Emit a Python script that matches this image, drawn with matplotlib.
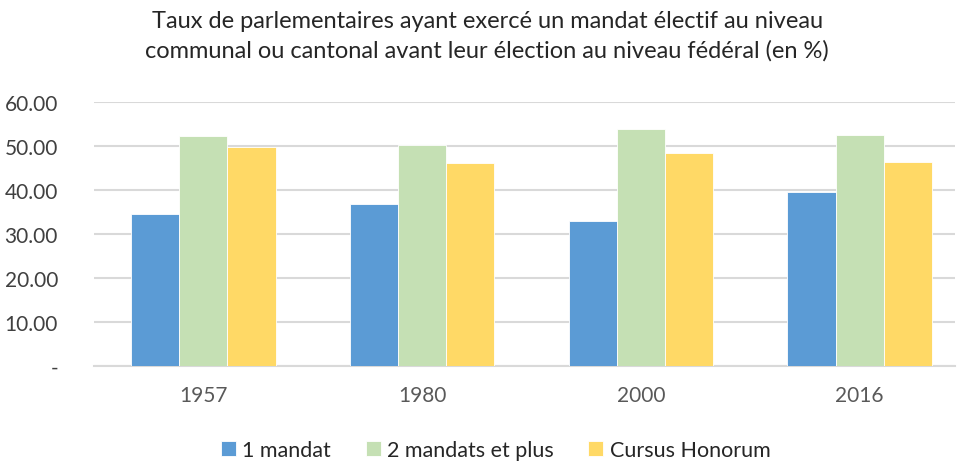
import numpy as np
import matplotlib.pyplot as plt
from matplotlib.ticker import FuncFormatter

years = ['1957', '1980', '2000', '2016']
series_names = ['1 mandat', '2 mandats et plus', 'Cursus Honorum']
un_mandat = [34.5, 36.8, 33.0, 39.5]
deux_mandats = [52.3, 50.2, 53.9, 52.5]
cursus = [49.8, 46.1, 48.3, 46.3]
colors = ['#5b9bd5', '#c5e0b4', '#ffd966']

plt.rcParams['font.family'] = ['Lato', 'DejaVu Sans']

fig = plt.figure(figsize=(9.59, 4.64), dpi=100)
ax = fig.add_axes([94 / 959, 1 - 367 / 464, 861 / 959, 264 / 464])

x = np.arange(len(years))
w = 0.22
for i, (vals, name, c) in enumerate(zip([un_mandat, deux_mandats, cursus], series_names, colors)):
    ax.bar(x + (i - 1) * w, vals, w, color=c, label=name, edgecolor='white', linewidth=0.6, zorder=3)

# category spacing ~219 px, axis cut at the right edge
ax.set_xlim(-0.5, 3.436)
ax.set_ylim(0, 60)
ax.set_yticks(np.arange(0, 61, 10))
ax.yaxis.set_major_formatter(FuncFormatter(lambda v, p: '-' if v == 0 else f'{v:.2f}'))
ax.set_xticks(x)
ax.set_xticklabels(years)
ax.grid(axis='y', color='#d9d9d9', linewidth=1.5, zorder=0)
for s in ['top', 'right', 'left']:
    ax.spines[s].set_visible(False)
ax.spines['bottom'].set_color('#d9d9d9')
ax.spines['bottom'].set_linewidth(1.5)
ax.tick_params(axis='y', length=0, labelsize=15, labelcolor='#404040', pad=26)
ax.tick_params(axis='x', length=0, labelsize=15, labelcolor='#595959', pad=14)

fig.text(0.508, 0.922, "Taux de parlementaires ayant exercé un mandat électif au niveau\n"
         "communal ou cantonal avant leur élection au niveau fédéral (en %)",
         ha='center', va='center', fontsize=17, color='#262626', linespacing=1.45)

fig.legend(loc='center', bbox_to_anchor=(0.517, 0.028), ncol=3, frameon=False,
           fontsize=15.5, handlelength=0.7, handleheight=0.7, handletextpad=0.3,
           columnspacing=1.6, labelcolor='#262626')

fig.savefig('out.png', dpi=100)
